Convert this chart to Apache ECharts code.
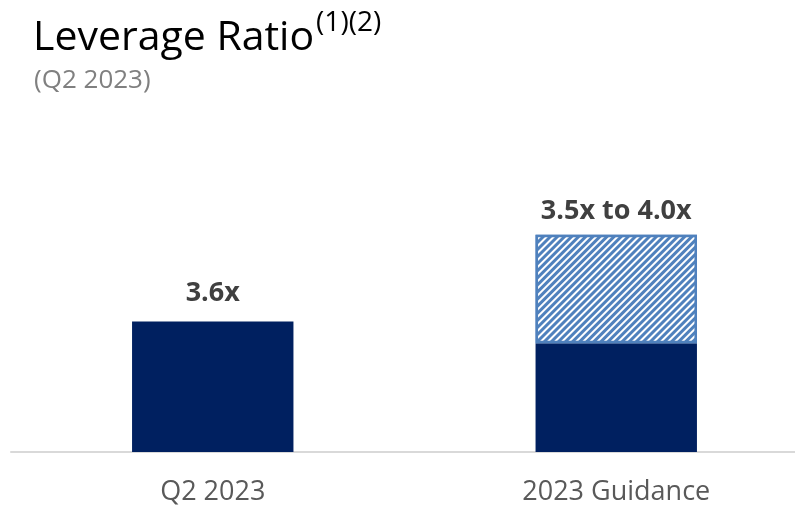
<!DOCTYPE html>
<html>
<head>
<meta charset="utf-8">
<script src="https://cdn.jsdelivr.net/npm/echarts@6/dist/echarts.min.js"></script>
<style>
  html, body { margin: 0; padding: 0; background: #fff; }
  #chart { width: 795px; height: 506px; }
</style>
</head>
<body>
<div id="chart"></div>
<script>
// Leverage ratio: current quarter vs. full-year guidance range
const categories = ['Q2 2023', '2023 Guidance'];
const leverage = [3.6, 3.5];          // solid bars: actual, and low end of guidance
const guidanceLow = [null, 3.5];      // guidance range (hatched part)
const guidanceHigh = [null, 4.0];

const FONT = '"Open Sans", "Noto Sans", sans-serif';
const NAVY = '#002060';
const HATCH = '#4f81bd';

const fmt = v => v.toFixed(1) + 'x';

const chart = echarts.init(document.getElementById('chart'), null, { renderer: 'canvas' });

chart.setOption({
  animation: false,
  backgroundColor: '#ffffff',
  title: [
    {
      text: '{main|Leverage Ratio}{sup|(1)(2)}',
      left: 28,
      top: 4,
      textStyle: {
        fontFamily: FONT,
        fontWeight: 'normal',
        rich: {
          main: { fontFamily: FONT, fontSize: 41, fontWeight: 'normal', color: '#000000', verticalAlign: 'bottom', lineHeight: 50 },
          sup: { fontFamily: FONT, fontSize: 28, fontWeight: 'normal', color: '#000000', verticalAlign: 'top', lineHeight: 40, padding: [0, 0, 0, 2] }
        }
      }
    },
    {
      text: '(Q2 2023)',
      left: 29,
      top: 63,
      textStyle: { fontFamily: FONT, fontSize: 26, fontWeight: 'normal', color: '#808080' }
    }
  ],
  grid: { left: 11, right: -23, top: 126, bottom: 54, outerBoundsMode: 'none' },
  xAxis: {
    type: 'category',
    data: categories,
    axisLine: { show: true, lineStyle: { color: '#d9d9d9', width: 2 } },
    axisTick: { show: false },
    axisLabel: { fontFamily: FONT, fontSize: 27, color: '#595959', margin: 27 }
  },
  yAxis: {
    type: 'value',
    min: 3.0,
    max: 4.5,
    show: false,
    splitLine: { show: false }
  },
  series: [
    {
      name: 'Leverage',
      type: 'bar',
      stack: 'lev',
      barWidth: '40%',
      data: leverage.map((v, i) => ({
        value: v,
        label: { show: guidanceHigh[i] == null }
      })),
      itemStyle: { color: NAVY },
      label: {
        position: 'top',
        distance: 15,
        fontFamily: FONT,
        fontSize: 27,
        fontWeight: 'bold',
        color: '#404040',
        formatter: p => fmt(p.value)
      }
    },
    {
      name: 'Guidance range',
      type: 'bar',
      stack: 'lev',
      barWidth: '40%',
      data: guidanceHigh.map((h, i) => (h == null ? '-' : +(h - guidanceLow[i]).toFixed(2))),
      itemStyle: {
        color: '#ffffff',
        borderColor: HATCH,
        borderWidth: 2.5,
        decal: {
          symbol: 'rect',
          symbolSize: 1,
          color: HATCH,
          backgroundColor: '#ffffff',
          dashArrayX: [1, 0],
          dashArrayY: [2.6, 2.0],
          rotation: -Math.PI / 4
        }
      },
      label: {
        show: true,
        position: 'top',
        distance: 10,
        fontFamily: FONT,
        fontSize: 27,
        fontWeight: 'bold',
        color: '#404040',
        formatter: p => fmt(guidanceLow[p.dataIndex]) + ' to ' + fmt(guidanceHigh[p.dataIndex])
      }
    }
  ]
});
</script>
</body>
</html>
